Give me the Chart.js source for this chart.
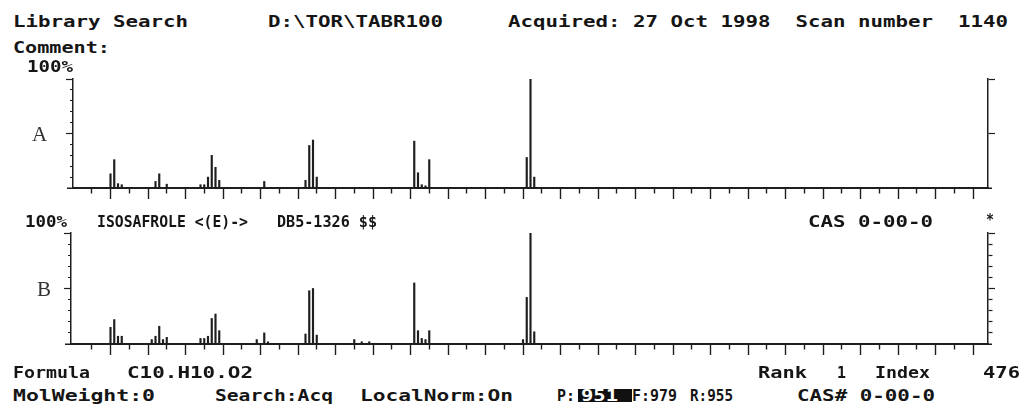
<!DOCTYPE html>
<html>
<head>
<meta charset="utf-8">
<script src="https://cdn.jsdelivr.net/npm/chart.js@4.4.0/dist/chart.umd.min.js"></script>
<style>
html,body{margin:0;padding:0;background:#fff;}
#page{position:relative;width:1025px;height:411px;overflow:hidden;background:#fff;}
.box{position:absolute;left:0;width:1025px;height:140px;}
.t{position:absolute;white-space:pre;font-family:'DejaVu Sans Mono',monospace;font-weight:bold;font-size:15px;line-height:15px;color:#151515;transform-origin:0 0;}
.w{color:#fff;}
.serif{font-family:'Liberation Serif',serif;font-weight:normal;font-size:21px;line-height:21px;color:#333;}
#hl{position:absolute;left:578px;top:389px;width:54px;height:13px;background:#111;}
</style>
</head>
<body>
<div id="page">
  <div class="box" style="top:70px"><canvas id="chartA" width="1025" height="140"></canvas></div>
  <div class="box" style="top:225px"><canvas id="chartB" width="1025" height="140"></canvas></div>
  <div id="hl"></div>
  <div id="labels"></div>
</div>
<script>
// m/z and relative abundance (%)
var mzA  = [50, 51, 52, 53, 62, 63, 65, 74, 75, 76, 77, 78, 79, 91, 102, 103, 104, 105, 131, 132, 133, 134, 135, 161, 162, 163];
var relA = [13, 26,  4,  3,  6, 13, 3.5, 3,  3, 10, 30, 19,  7,  6,   7,  39,  44,  10,  43,  14,   3,   2,  26,  28, 100,  10];

var mzB  = [50, 51, 52, 53, 61, 62, 63, 64, 65, 74, 75, 76, 77, 78, 79, 89, 91, 92, 102, 103, 104, 105, 115, 117, 119, 131, 132, 133, 134, 135, 160, 161, 162, 163];
var relB = [15, 22,  7,  7,  4,  7, 16,  4,  6,  5,  5,  7, 23, 27, 12,  4, 10,  2,   9,  48,  50,   8,   4,   2,   2,  55,  12,   5,   4,  12,   4,  42, 100,  11];

var MZ_MIN = 40, MZ_MAX = 284;
var INK = '#1e1e1e';

// text lines: [text, x, capTop, width, class]
var labels = [
  ['Library Search', 13, 17, 175],
  ['D:\\TOR\\TABR100', 268, 17, 175],
  ['Acquired: 27 Oct 1998  Scan number  1140', 508, 17, 500],
  ['Comment:', 13, 43, 97],
  ['100%', 27, 62, 46],
  ['100%', 25, 217, 42],
  ['ISOSAFROLE <(E)->', 97, 217, 151],
  ['DB5-1326 $$', 277, 217, 100],
  ['CAS 0-00-0', 808, 217, 125],
  ['*', 986, 215, 8],
  ['Formula', 13, 368, 77],
  ['C10.H10.O2', 127, 368, 126],
  ['Rank', 758, 368, 49],
  ['1', 837, 368, 9],
  ['Index', 875, 368, 55],
  ['476', 983, 368, 37],
  ['MolWeight:0', 13, 391, 142],
  ['Search:Acq', 215, 391, 118],
  ['LocalNorm:On', 360, 391, 153],
  ['P:', 557, 391, 18],
  ['951', 581, 391, 37, 'w'],
  ['F:979', 632, 391, 45],
  ['R:955', 690, 391, 43],
  ['CAS# 0-00-0', 797, 391, 138]
];

var holder = document.getElementById('labels');
var spans = [];
labels.forEach(function(l) {
  var s = document.createElement('span');
  s.className = 't' + (l[4] ? ' ' + l[4] : '');
  s.textContent = l[0];
  s.style.left = l[1] + 'px';
  s.style.top = (l[2] - 1.8) + 'px';
  holder.appendChild(s);
  spans.push([s, l[3]]);
});
[['A', 32, 128], ['B', 37, 283]].forEach(function(l) {
  var s = document.createElement('span');
  s.className = 't serif';
  s.textContent = l[0];
  s.style.left = l[1] + 'px';
  s.style.top = (l[2] - 3.7) + 'px';
  holder.appendChild(s);
});

function fit() {
  spans.forEach(function(p) {
    var w = p[0].getBoundingClientRect().width / (p[0]._k || 1);
    var k = p[1] / w;
    p[0]._k = k;
    p[0].style.transform = 'scaleX(' + k + ')';
  });
}
fit();

// baseline runs a few pixels past both side axes, like the printout
var baselineRun = {
  id: 'baselineRun',
  afterDraw: function(chart) {
    var c = chart.ctx, a = chart.chartArea;
    var y = Math.round(chart.scales.y.getPixelForValue(0)) + 0.25;
    c.save();
    c.strokeStyle = INK;
    c.lineWidth = 1.5;
    c.beginPath();
    c.moveTo(a.left - 6, y);
    c.lineTo(a.right + 4, y);
    c.stroke();
    c.restore();
  }
};

function spectrum(id, mz, rel, cfg) {
  return new Chart(document.getElementById(id), {
    type: 'bar',
    data: {
      datasets: [{
        data: mz.map(function(m, i) { return {x: m, y: rel[i]}; }),
        backgroundColor: INK,
        borderWidth: 0,
        barThickness: 1.5
      }]
    },
    options: {
      responsive: false,
      animation: false,
      layout: {padding: cfg.pad},
      plugins: {legend: {display: false}, tooltip: {enabled: false}},
      scales: {
        x: {
          type: 'linear', min: cfg.xMin, max: MZ_MAX, offset: false,
          border: {color: INK, width: 1.5},
          grid: {
            offset: false, drawOnChartArea: false, tickLength: 11, tickWidth: 1.4,
            tickColor: function(c) { return (c.tick.value < 42 || c.tick.value > 282) ? 'rgba(0,0,0,0)' : INK; },
            tickBorderDash: function(c) { return c.tick.value % 10 === 0 ? [] : [5, 40]; }
          },
          ticks: {display: false, stepSize: 5, includeBounds: false},
          afterFit: function(s) { s.height = 12; }
        },
        y: {
          position: 'left', min: 0, max: 100,
          border: {color: INK, width: 1.5},
          grid: {
            drawOnChartArea: false, tickLength: 7, tickWidth: 1.2, tickColor: INK,
            tickBorderDash: function(c) { return (c.tick.value === 50 || c.tick.value === 100) ? [] : [0, 4, 3, 40]; }
          },
          ticks: {display: false, stepSize: 10},
          afterFit: function(s) { s.width = 7; }
        },
        y2: {
          position: 'right', min: 0, max: 100,
          border: {color: INK, width: 1.5},
          grid: {
            drawOnChartArea: false, tickLength: 7, tickWidth: 1.2,
            tickColor: function(c) {
              var v = c.tick.value;
              if (v === 50 || v === 100) return INK;
              return cfg.rightMinor && v > 0 ? INK : 'rgba(0,0,0,0)';
            },
            tickBorderDash: function(c) { return (c.tick.value === 50 || c.tick.value === 100) ? [] : [4, 40]; }
          },
          ticks: {display: false, stepSize: 10},
          afterFit: function(s) { s.width = 8; }
        }
      }
    },
    plugins: [baselineRun]
  });
}

spectrum('chartA', mzA, relA, {pad: {left: 66, right: 29, top: 9, bottom: 10}, xMin: MZ_MIN, rightMinor: false});
spectrum('chartB', mzB, relB, {pad: {left: 64, right: 29, top: 8, bottom: 9}, xMin: MZ_MIN - 2 / 3.75, rightMinor: true});

if (document.fonts && document.fonts.ready) document.fonts.ready.then(fit);
</script>
</body>
</html>
